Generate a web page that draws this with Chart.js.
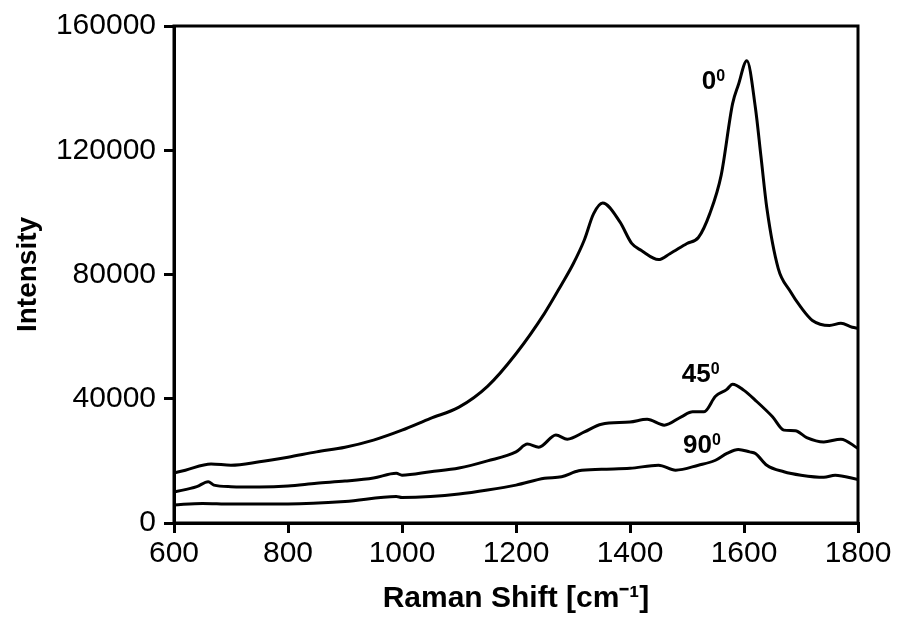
<!DOCTYPE html>
<html>
<head>
<meta charset="utf-8">
<script src="https://cdn.jsdelivr.net/npm/chart.js@4/dist/chart.umd.min.js"></script>
<style>
  html, body { margin: 0; padding: 0; background: #fff; }
  #wrap { width: 900px; height: 619px; }
</style>
</head>
<body>
<div id="wrap"><canvas id="ramanChart" width="900" height="619"></canvas></div>
<script>
// Datos del espectro Raman
const shift0 = [600, 620, 665, 700, 750, 800, 850, 900, 950, 1000, 1050, 1100, 1150, 1200, 1250, 1280, 1300, 1320, 1336, 1352, 1382, 1403, 1420, 1450, 1470, 1500, 1520, 1540, 1560, 1580, 1590, 1605, 1620, 1630, 1640, 1660, 1680, 1700, 1720, 1750, 1770, 1790, 1800];
const intensity0 = [16100, 17000, 19000, 18600, 19700, 21200, 22900, 24400, 26700, 29900, 33700, 37300, 44000, 54500, 67500, 76800, 83300, 91200, 99500, 103000, 97000, 90000, 87700, 84800, 86700, 90000, 91900, 99600, 112000, 135000, 141000, 148800, 133700, 117600, 101500, 82000, 74900, 69400, 65200, 63600, 64300, 63000, 62700];

const shift45 = [600, 640, 660, 670, 700, 750, 800, 850, 900, 950, 990, 1000, 1050, 1100, 1150, 1200, 1220, 1240, 1270, 1290, 1320, 1350, 1400, 1430, 1460, 1490, 1510, 1530, 1550, 1570, 1580, 1600, 1620, 1650, 1670, 1690, 1710, 1740, 1770, 1800];
const intensity45 = [10000, 11700, 13300, 12200, 11700, 11600, 11900, 12800, 13500, 14500, 16000, 15400, 16500, 17700, 20000, 22900, 25400, 24400, 28300, 27000, 29300, 31800, 32500, 33400, 31500, 34200, 35800, 35800, 40800, 43000, 44700, 42700, 39500, 34200, 29900, 29700, 27500, 26100, 27000, 24000];

const shift90 = [600, 650, 700, 800, 900, 990, 1000, 1050, 1100, 1150, 1200, 1250, 1280, 1310, 1350, 1400, 1450, 1480, 1520, 1550, 1570, 1590, 1610, 1620, 1640, 1670, 1700, 1740, 1760, 1800];
const intensity90 = [5800, 6300, 6100, 6100, 6900, 8500, 8200, 8500, 9300, 10600, 12200, 14400, 14900, 16800, 17300, 17600, 18600, 17000, 18600, 20200, 22400, 23700, 22900, 22400, 18600, 16500, 15400, 14700, 15400, 14000];

const xTicks = [600, 800, 1000, 1200, 1400, 1600, 1800];
const yTicks = [0, 40000, 80000, 120000, 160000];

// Etiquetas de ángulo junto a cada curva
const angleLabels = [
  { text: '0', x: 1526, y: 139800 },
  { text: '45', x: 1491, y: 45300 },
  { text: '90', x: 1493, y: 22500 }
];

const toPoints = (xs, ys) => xs.map((x, i) => ({ x: x, y: ys[i] }));

const FONT = "'Liberation Sans', Arial, sans-serif";

// Marco completo alrededor del área del gráfico
const framePlugin = {
  id: 'frame',
  afterDraw(chart) {
    const { ctx, chartArea } = chart;
    ctx.save();
    ctx.strokeStyle = '#000';
    ctx.lineWidth = 3;
    ctx.strokeRect(chartArea.left, chartArea.top, chartArea.right - chartArea.left, chartArea.bottom - chartArea.top);
    ctx.restore();
  }
};

// Texto "0°", "45°", "90°" con superíndice
const labelPlugin = {
  id: 'angleLabels',
  afterDatasetsDraw(chart) {
    const { ctx, scales } = chart;
    ctx.save();
    ctx.fillStyle = '#000';
    ctx.textBaseline = 'alphabetic';
    angleLabels.forEach(l => {
      const px = scales.x.getPixelForValue(l.x);
      const py = scales.y.getPixelForValue(l.y);
      ctx.font = 'bold 26px ' + FONT;
      ctx.fillText(l.text, px, py);
      const w = ctx.measureText(l.text).width;
      ctx.font = 'bold 16px ' + FONT;
      ctx.fillText('0', px + w, py - 8);
    });
    ctx.restore();
  }
};

const seriesStyle = {
  borderColor: '#000',
  borderWidth: 3,
  pointRadius: 0,
  cubicInterpolationMode: 'monotone',
  fill: false
};

const ctx = document.getElementById('ramanChart').getContext('2d');
const ramanChart = new Chart(ctx, {
  type: 'line',
  data: {
    datasets: [
      Object.assign({ label: '0', data: toPoints(shift0, intensity0) }, seriesStyle),
      Object.assign({ label: '45', data: toPoints(shift45, intensity45) }, seriesStyle),
      Object.assign({ label: '90', data: toPoints(shift90, intensity90) }, seriesStyle)
    ]
  },
  options: {
    responsive: false,
    animation: false,
    layout: { padding: { left: 0, right: 42, top: 25, bottom: 0 } },
    plugins: {
      legend: { display: false },
      tooltip: { enabled: false }
    },
    scales: {
      x: {
        type: 'linear',
        min: 600,
        max: 1800,
        afterBuildTicks: s => { s.ticks = xTicks.map(v => ({ value: v })); },
        afterFit: s => { s.height = 96; },
        ticks: { color: '#000', font: { family: FONT, size: 30 }, padding: 3, maxRotation: 0, callback: v => String(v) },
        grid: { display: true, drawOnChartArea: false, drawTicks: true, tickLength: 10, color: '#000', lineWidth: 3 },
        border: { display: true, color: '#000', width: 3 },
        title: {
          display: true,
          text: 'Raman Shift [cm\u207B\u00B9]',
          color: '#000',
          font: { family: FONT, size: 30, weight: 'bold' },
          padding: { top: 0, bottom: 2 }
        }
      },
      y: {
        min: 0,
        max: 160000,
        afterBuildTicks: s => { s.ticks = yTicks.map(v => ({ value: v })); },
        afterFit: s => { s.width = 174; },
        ticks: { color: '#000', font: { family: FONT, size: 30 }, padding: 8, callback: v => String(v) },
        grid: { display: true, drawOnChartArea: false, drawTicks: true, tickLength: 10, color: '#000', lineWidth: 3 },
        border: { display: true, color: '#000', width: 3 },
        title: {
          display: true,
          text: 'Intensity',
          color: '#000',
          font: { family: FONT, size: 28, weight: 'bold' },
          padding: { top: 11, bottom: 0 }
        }
      }
    }
  },
  plugins: [framePlugin, labelPlugin]
});
</script>
</body>
</html>
